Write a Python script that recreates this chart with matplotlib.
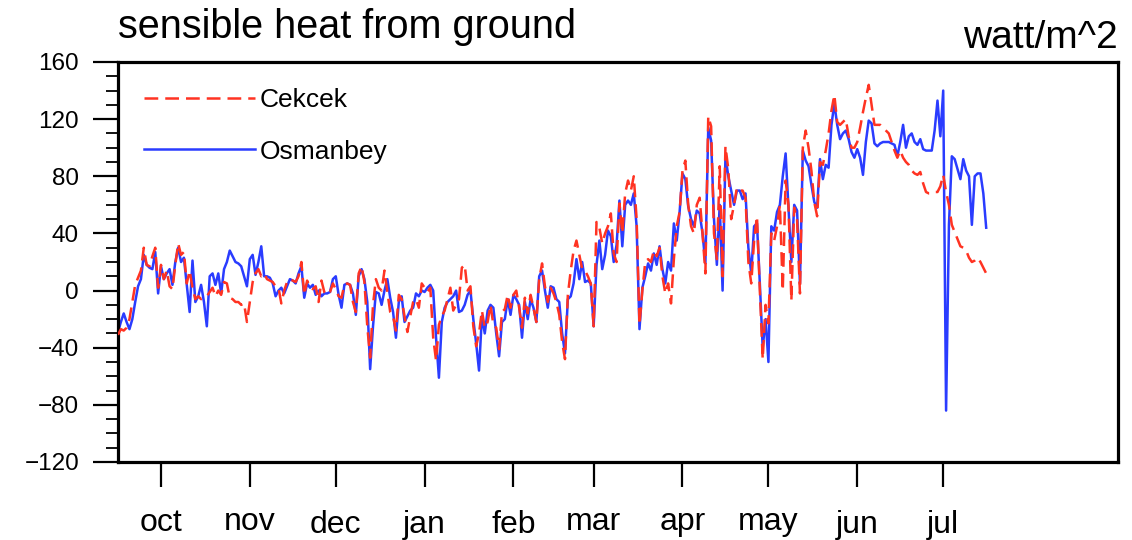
import datetime as dt
import numpy as np
import matplotlib
matplotlib.use("Agg")
import matplotlib.pyplot as plt
import matplotlib.dates as mdates
from matplotlib.textpath import TextPath
from matplotlib.font_manager import FontProperties
from matplotlib import transforms

plt.rcParams["font.family"] = ["Liberation Sans", "DejaVu Sans"]

# daily series, starting 16 Sep
start_date = dt.date(2013, 9, 16)

cekcek = [
    -31, -27, -28, -26, -20, -8, 4, 9, 14, 30,
    18, 17, 24, 30, 2, 18, 8, 14, 3, 1,
    18, 33, 25, 27, 5, 14, 2, -6, -4, -6,
    -5, -4, -1, 2, -4, 0, -3, 6, 5, -5,
    -6, -8, -8, -10, -9, -22, -8, 6, 12, 15,
    10, 12, 8, 7, 6, 3, 2, -9, 0, 6,
    8, 7, 6, 10, 20, -3, 7, 2, 1, 3,
    -8, 7, -1, -3, -1, 5, 1, -4, -5, 4,
    5, 4, -8, -15, 12, 17, 6, -25, -47, -10,
    8, 2, 0, 14, -1, -15, -18, -28, -3, -6,
    -18, -29, -18, -8, -6, -12, 5, 2, -1, 2,
    -33, -49, -24, -18, -14, -6, 2, -14, -10, -6,
    16, 18, 0, 3, -25, -39, -30, -14, -26, -22,
    -10, -24, -26, -41, -15, -13, -3, -12, -3, 0,
    -12, -26, -5, -16, -3, -12, -22, 8, 19, 3,
    -8, 2, -2, -8, -17, -36, -48, -3, 14, 28,
    35, 25, 15, 14, 10, 5, -25, 48, 44, 33,
    40, 45, 54, 26, 20, 61, 40, 68, 77, 70,
    80, 50, -24, 0, 20, 22, 20, 28, 24, 30,
    10, -2, 5, -9, 22, 45, 55, 84, 91, 60,
    45, 40, 60, 65, 40, 12, 122, 115, 40, 22,
    87, 10, 101, 85, 50, 60, 72, 70, 70, 65,
    20, 5, 35, 52, 0, -48, -10, -23, 40, 35,
    45, 60, 0, 77, 60, -7, 58, 50, -2, 100,
    112, 100, 84, 62, 52, 90, 88, 98, 110, 126,
    137, 118, 116, 118, 120, 108, 100, 100, 104, 114,
    125, 135, 144, 130, 116, 116, 116, 114, 112, 110,
    104, 98, 93, 98, 93, 90, 88, 84, 82, 81,
    83, 75, 69, 68, 68, 69, 69, 73, 81, 69,
    60, 46, 41, 36, 31, 30, 28, 23, 20, 21,
    23, 20, 16, 12,
]

osmanbey = [
    -29, -22, -16, -22, -27, -20, -8, 3, 8, 25,
    18, 16, 15, 27, -2, 17, 8, 12, 15, 4,
    20, 30, 20, 23, 4, -15, 21, -8, -4, 4,
    -8, -25, 10, 12, 4, 12, -2, 15, 20, 28,
    24, 20, 19, 17, 10, 3, 22, 25, 11, 20,
    31, 10, 10, 9, 5, -4, 0, 2, -2, 3,
    8, 7, 5, 12, 17, -5, 5, 2, 4, -3,
    0, -4, -2, -2, -1, 8, 10, -3, -12, 4,
    5, 4, -2, -17, 10, 15, 8, -8, -55, -25,
    -1, -2, -10, 0, 8, -5, -15, -33, -8, -4,
    -22, -18, -14, -12, -2, -4, 0, -1, 2, 4,
    0, -33, -61, -22, -12, -8, -6, -4, 0, -15,
    -14, -10, -3, 0, -20, -37, -56, -18, -30, -14,
    -10, -12, -30, -46, -22, -20, -6, -17, -3, -6,
    -10, -33, -8, -20, -6, -12, -22, 10, 14, 0,
    -12, 3, 2, -6, -8, -30, -44, -6, -4, 5,
    22, 8, 20, 6, 7, 5, -25, 18, 35, 15,
    25, 42, 38, 20, 32, 63, 31, 60, 63, 60,
    68, 45, -27, 2, 10, 19, 14, 26, 18, 31,
    15, 5, 20, 14, 47, 35, 55, 82, 78, 59,
    50, 45, 56, 54, 40, 19, 114, 105, 50, 18,
    60, 0, 94, 80, 70, 60, 70, 70, 64, 68,
    30, 12, 45, 47, 5, -40, -20, -50, 45, 42,
    55, 60, 80, 96, 58, 20, 60, 56, 5, 98,
    91, 87, 74, 62, 58, 92, 78, 88, 86, 116,
    131, 116, 106, 110, 112, 106, 97, 93, 99, 93,
    81, 104, 119, 117, 103, 101, 103, 104, 104, 104,
    103, 102, 94, 104, 116, 100, 108, 110, 104, 102,
    106, 99, 98, 98, 98, 112, 133, 108, 140, -84,
    46, 94, 92, 85, 78, 92, 84, 80, 46, 80,
    82, 82, 68, 44,
]

series_names = ["Cekcek", "Osmanbey"]
month_labels = ["oct", "nov", "dec", "jan", "feb", "mar", "apr", "may", "jun", "jul"]
y_ticks = [-120, -80, -40, 0, 40, 80, 120, 160]

title = "sensible heat from ground"
units = "watt/m^2"

dates_c = [start_date + dt.timedelta(days=i) for i in range(len(cekcek))]
dates_o = [start_date + dt.timedelta(days=i) for i in range(len(osmanbey))]
month_starts = [dt.date(2013, 10, 1), dt.date(2013, 11, 1), dt.date(2013, 12, 1),
                dt.date(2014, 1, 1), dt.date(2014, 2, 1), dt.date(2014, 3, 1),
                dt.date(2014, 4, 1), dt.date(2014, 5, 1), dt.date(2014, 6, 1),
                dt.date(2014, 7, 1)]

RED = "#ff3322"
BLUE = "#2a3cff"

fig = plt.figure(figsize=(11.32, 5.40), dpi=100)
ax = fig.add_axes([118 / 1132, 1 - 462 / 540, 1000 / 1132, 400 / 540])

line_o, = ax.plot(dates_o, osmanbey, color=BLUE, lw=1.8, label=series_names[1], zorder=2)
line_c, = ax.plot(dates_c, cekcek, color=RED, lw=1.8, dashes=(5.5, 2.8),
                  label=series_names[0], zorder=3)

ax.set_xlim(start_date, dt.date(2014, 8, 31))
ax.set_ylim(-120, 160)

for sp in ax.spines.values():
    sp.set_linewidth(2.3)

ax.set_yticks(y_ticks)
ax.set_yticklabels([str(v).replace("-", "\u2212") for v in y_ticks], fontsize=17.5)
ax.set_yticks(np.arange(-120, 161, 10), minor=True)
ax.tick_params(axis="y", which="major", direction="out", length=18, width=1.6, pad=10)
ax.tick_params(axis="y", which="minor", direction="out", length=9, width=1.3)

ax.set_xticks(month_starts)
ax.set_xticklabels([])
ax.tick_params(axis="x", which="major", direction="out", length=18, width=1.6)
ax.tick_params(axis="x", which="minor", length=0)

# month names: the box from baseline to the top of the ink is centred on one line
fp = FontProperties(family="Liberation Sans", size=23)
label_offset = transforms.ScaledTranslation(0, -59 / 100, fig.dpi_scale_trans)
for d, name in zip(month_starts, month_labels):
    ext = TextPath((0, 0), name, prop=fp).get_extents()
    shift = transforms.ScaledTranslation(0, -(ext.y1 / 2.0) / 72, fig.dpi_scale_trans)
    ax.text(mdates.date2num(d), 0, name, fontproperties=fp, ha="center", va="baseline",
            transform=ax.get_xaxis_transform() + label_offset + shift, clip_on=False)

ax.text(0, 1.06, title, transform=ax.transAxes, ha="left", va="baseline", fontsize=28.5)
ax.text(1, 1.035, units, transform=ax.transAxes, ha="right", va="baseline", fontsize=28)

ax.legend(handles=[line_c, line_o], loc="upper left", bbox_to_anchor=(0.026, 0.935),
          frameon=False, fontsize=19, handlelength=4.2, handletextpad=0.2,
          labelspacing=1.05, borderaxespad=0, borderpad=0)

fig.savefig("out.png", dpi=100, facecolor="white")
